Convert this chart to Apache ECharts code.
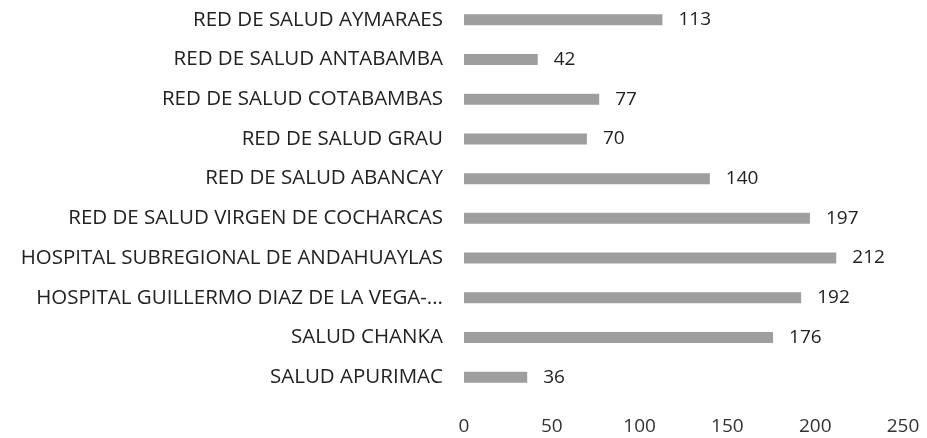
<!DOCTYPE html>
<html>
<head>
<meta charset="utf-8">
<script src="https://cdn.jsdelivr.net/npm/echarts@6/dist/echarts.min.js"></script>
<style>
    html, body { margin: 0; padding: 0; background: #fff; }
    #bar_chart { width: 927px; height: 438px; }
</style>
</head>
<body>
<div id="bar_chart"></div>
<script>
// categorias de arriba hacia abajo
var redes = [
    'RED DE SALUD AYMARAES',
    'RED DE SALUD ANTABAMBA',
    'RED DE SALUD COTABAMBAS',
    'RED DE SALUD GRAU',
    'RED DE SALUD ABANCAY',
    'RED DE SALUD VIRGEN DE COCHARCAS',
    'HOSPITAL SUBREGIONAL DE ANDAHUAYLAS',
    'HOSPITAL GUILLERMO DIAZ DE LA VEGA-...',
    'SALUD CHANKA',
    'SALUD APURIMAC'
];
var cantidades = [113, 42, 77, 70, 140, 197, 212, 192, 176, 36];
var ejeMax = 250;
var ejePaso = 50;

var myChart = echarts.init(document.getElementById('bar_chart'));
var fuente = '"Open Sans", sans-serif';

var option = {
    animation: false,
    grid: {
        left: 464,
        right: 24,
        top: 0,
        bottom: 41
    },
    xAxis: {
        type: 'value',
        min: 0,
        max: ejeMax,
        interval: ejePaso,
        splitLine: { show: false },
        axisLine: { show: false },
        axisTick: { show: false },
        axisLabel: {
            margin: 20,
            color: '#333',
            fontSize: 19,
            fontFamily: fuente
        }
    },
    yAxis: {
        type: 'category',
        inverse: true,
        data: redes,
        axisLine: { show: false },
        axisTick: { show: false },
        axisLabel: {
            margin: 21,
            color: '#222',
            fontSize: 20.5,
            fontFamily: fuente
        }
    },
    series: [
        {
            type: 'bar',
            data: cantidades,
            barWidth: 11,
            itemStyle: { color: '#9e9e9e' },
            label: {
                show: true,
                position: 'right',
                distance: 16,
                color: '#222',
                fontSize: 19,
                fontFamily: fuente
            }
        }
    ]
};

myChart.setOption(option);
</script>
</body>
</html>
